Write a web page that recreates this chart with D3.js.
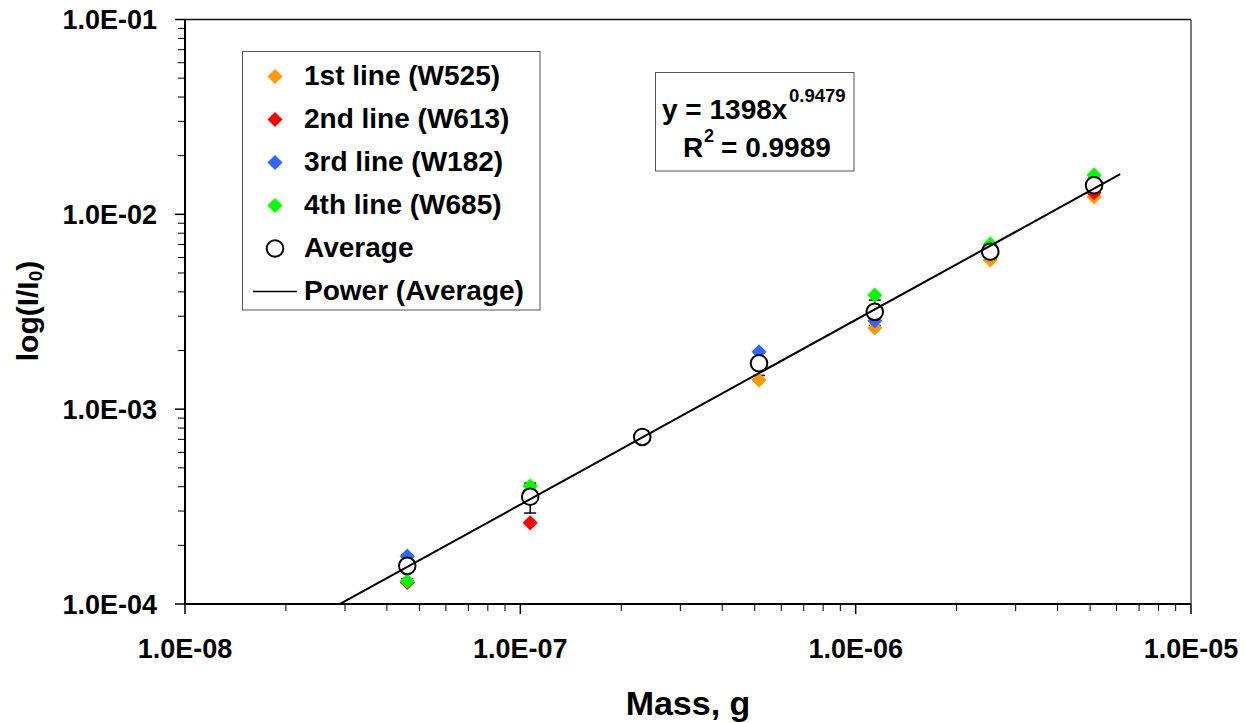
<!DOCTYPE html>
<html><head><meta charset="utf-8">
<script src="https://cdn.jsdelivr.net/npm/d3@7"></script>
<style>
body{margin:0;background:#fff;}
svg{font-family:"Liberation Sans",Arial,sans-serif;font-weight:bold;}
</style></head>
<body><svg id="c" width="1245" height="723"></svg>
<script>
// ---- data ----
const mass = [4.6e-8, 1.07e-7, 2.31e-7, 5.15e-7, 1.14e-6, 2.52e-6, 5.14e-6];
const line1 = [1.30e-4, 3.8e-4, 7.2e-4, 1.41e-3, 2.61e-3, 5.83e-3, 1.23e-2];
const line2 = [1.29e-4, 2.61e-4, 7.2e-4, 1.75e-3, 3.2e-3, 6.4e-3, 1.29e-2];
const line3 = [1.76e-4, 3.8e-4, 7.2e-4, 1.97e-3, 2.84e-3, 6.4e-3, 1.45e-2];
const line4 = [1.31e-4, 4.03e-4, 7.2e-4, 1.75e-3, 3.85e-3, 7.04e-3, 1.59e-2];
const average = [1.57e-4, 3.55e-4, 7.2e-4, 1.72e-3, 3.16e-3, 6.43e-3, 1.41e-2];
const errorSD = [0.22e-4, 0.62e-4, 0.1e-4, 0.23e-3, 0.47e-3, 0.5e-3, 0.15e-2];
const seriesNames = ["1st line (W525)", "2nd line (W613)", "3rd line (W182)", "4th line (W685)"];
const seriesColors = ["#FF9900", "#FF0000", "#3366FF", "#00FF00"];
const fitCoef = [1398, 0.9479];
const fitR2 = "0.9989";
const fitRange = [2.9e-8, 6.15e-6];
const xTicks = [1e-8, 1e-7, 1e-6, 1e-5];
const yTicks = [1e-4, 1e-3, 1e-2, 1e-1];
const xTickLabels = ["1.0E-08", "1.0E-07", "1.0E-06", "1.0E-05"];
const yTickLabels = ["1.0E-04", "1.0E-03", "1.0E-02", "1.0E-01"];

const svg = d3.select("#c");
const L = 185, R = 1191, T = 19.5, B = 604;
const x = d3.scaleLog().domain([1e-8, 1e-5]).range([L, R]);
const y = d3.scaleLog().domain([1e-4, 1e-1]).range([B, T]);

function minors(lo, hi){ const a=[]; for(let e=lo;e<hi;e++) for(let k=2;k<=9;k++) a.push(k*Math.pow(10,e)); return a; }
const xMin = minors(-8,-5), yMin = minors(-4,-1);

// frame
svg.append("line").attr("x1",L).attr("x2",R).attr("y1",T).attr("y2",T).attr("stroke","#111").attr("stroke-width",1.5);
svg.append("line").attr("x1",R).attr("x2",R).attr("y1",T).attr("y2",B).attr("stroke","#333").attr("stroke-width",1.3);

// x axis
svg.selectAll(".xmin").data(xMin).join("line").attr("x1",d=>x(d)).attr("x2",d=>x(d)).attr("y1",B).attr("y2",B+7).attr("stroke","#000").attr("stroke-width",1);
svg.selectAll(".xmaj").data(xTicks).join("line").attr("x1",d=>x(d)).attr("x2",d=>x(d)).attr("y1",B).attr("y2",B+10).attr("stroke","#000").attr("stroke-width",1.5);
svg.selectAll(".xlab").data(xTicks).join("text").attr("x",d=>x(d)).attr("y",658).attr("text-anchor","middle").attr("font-size",27).text((d,i)=>xTickLabels[i]);
// y axis
svg.selectAll(".ymin").data(yMin).join("line").attr("x1",L-7).attr("x2",L).attr("y1",d=>y(d)).attr("y2",d=>y(d)).attr("stroke","#000").attr("stroke-width",1);
svg.selectAll(".ymaj").data(yTicks).join("line").attr("x1",L-10).attr("x2",L).attr("y1",d=>y(d)).attr("y2",d=>y(d)).attr("stroke","#000").attr("stroke-width",1.5);
svg.selectAll(".ylab").data(yTicks).join("text").attr("x",157).attr("y",d=>y(d)+9.7).attr("text-anchor","end").attr("font-size",27).text((d,i)=>yTickLabels[i]);

svg.append("line").attr("x1",L).attr("x2",R).attr("y1",B).attr("y2",B).attr("stroke","#000").attr("stroke-width",2);
svg.append("line").attr("x1",L).attr("x2",L).attr("y1",T).attr("y2",B).attr("stroke","#000").attr("stroke-width",2);

// axis titles
svg.append("text").attr("x",688).attr("y",715).attr("text-anchor","middle").attr("font-size",34).text("Mass, g");
const yt = svg.append("text").attr("transform","translate(38,311) rotate(-90)").attr("text-anchor","middle").attr("font-size",30);
yt.append("tspan").text("log(I/I");
yt.append("tspan").attr("font-size",19).attr("dy",4).text("0");
yt.append("tspan").attr("dy",-4).text(")");

// error bars
const eb = svg.append("g").attr("stroke","#000").attr("stroke-width",1.5);
mass.forEach((m,i)=>{
  const cx=x(m), y0=y(average[i]-errorSD[i]), y1=y(average[i]+errorSD[i]);
  eb.append("line").attr("x1",cx).attr("x2",cx).attr("y1",y0).attr("y2",y1);
  eb.append("line").attr("x1",cx-6).attr("x2",cx+6).attr("y1",y0).attr("y2",y0);
  eb.append("line").attr("x1",cx-6).attr("x2",cx+6).attr("y1",y1).attr("y2",y1);
});

// diamonds
const sq = d3.symbol().type(d3.symbolSquare).size(115);
[line1,line2,line3,line4].forEach((s,k)=>{
  svg.append("g").selectAll("path").data(s).join("path")
    .attr("d",sq).attr("transform",(d,i)=>`translate(${x(mass[i])},${y(d)}) rotate(45)`)
    .attr("fill",seriesColors[k]);
});
// average circles
svg.append("g").selectAll("circle").data(average).join("circle")
  .attr("cx",(d,i)=>x(mass[i])).attr("cy",d=>y(d)).attr("r",8.3)
  .attr("fill","#fff").attr("stroke","#000").attr("stroke-width",2);

// trendline
const fit = v => fitCoef[0]*Math.pow(v,fitCoef[1]);
const tl = d3.line().x(d=>x(d)).y(d=>y(fit(d)));
svg.append("path").attr("d",tl(fitRange)).attr("fill","none").attr("stroke","#000").attr("stroke-width",2);

// legend
const lg = svg.append("g");
lg.append("rect").attr("x",242.5).attr("y",51.5).attr("width",297.5).attr("height",258.5).attr("fill","#fff").attr("stroke","#555").attr("stroke-width",1);
const rowY = [85, 128, 171, 214, 257, 300];
seriesNames.forEach((n,k)=>{
  lg.append("path").attr("d",sq).attr("transform",`translate(275,${rowY[k]-8.5}) rotate(45)`).attr("fill",seriesColors[k]);
  lg.append("text").attr("x",304).attr("y",rowY[k]).attr("font-size",28).text(n);
});
lg.append("circle").attr("cx",275).attr("cy",rowY[4]-8.5).attr("r",8.3).attr("fill","#fff").attr("stroke","#000").attr("stroke-width",2);
lg.append("text").attr("x",304).attr("y",rowY[4]).attr("font-size",28).text("Average");
lg.append("line").attr("x1",253).attr("x2",297).attr("y1",rowY[5]-8.5).attr("y2",rowY[5]-8.5).attr("stroke","#000").attr("stroke-width",1.5);
lg.append("text").attr("x",304).attr("y",rowY[5]).attr("font-size",28).text("Power (Average)");

// equation box
const eq = svg.append("g");
eq.append("rect").attr("x",655.5).attr("y",72.5).attr("width",198.5).attr("height",98.5).attr("fill","#fff").attr("stroke","#555").attr("stroke-width",1);
eq.append("text").attr("x",662).attr("y",119).attr("font-size",28).text(`y = ${fitCoef[0]}x`);
eq.append("text").attr("x",789).attr("y",102).attr("font-size",18.5).text(fitCoef[1]);
eq.append("text").attr("x",683).attr("y",157).attr("font-size",28).text("R");
eq.append("text").attr("x",704).attr("y",142).attr("font-size",18).text("2");
eq.append("text").attr("x",721).attr("y",157).attr("font-size",28).text(`= ${fitR2}`);
</script></body></html>
